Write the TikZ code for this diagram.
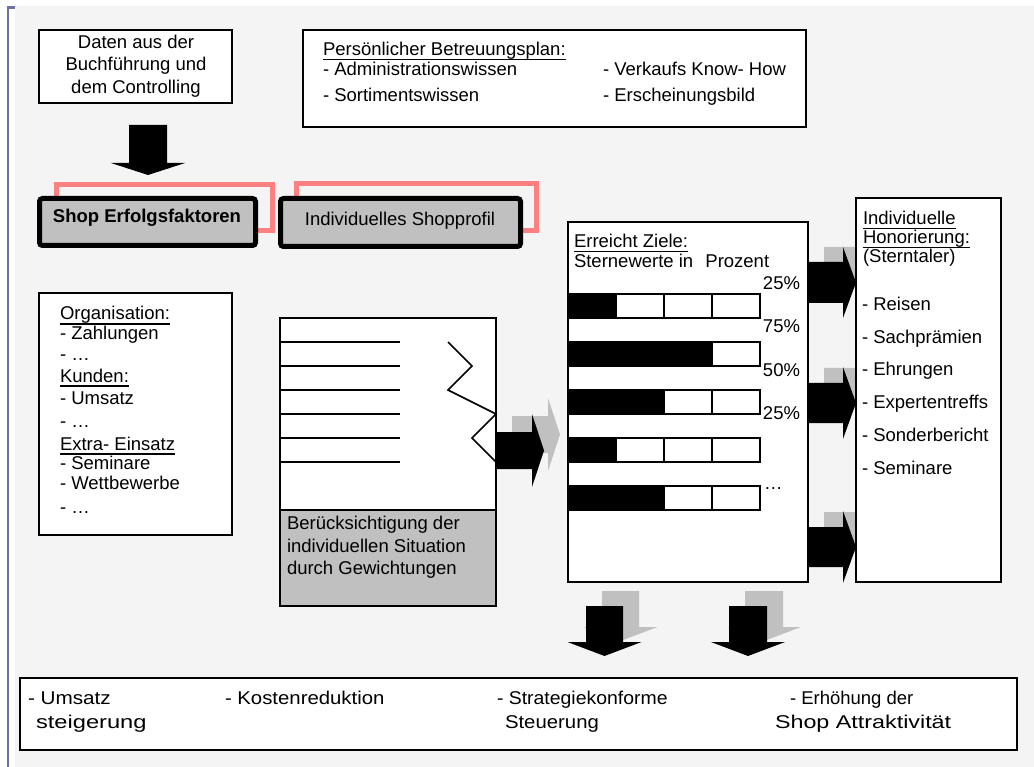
\documentclass[tikz,border=0pt]{standalone}
\usepackage{fontspec}
\usepackage{graphicx}
\setmainfont{Liberation Sans}
\definecolor{bgray}{HTML}{F4F4F4}
\definecolor{fgray}{HTML}{C0C0C0}
\definecolor{pinkc}{HTML}{FF8080}
\definecolor{purp}{HTML}{7070A8}
\newcommand\myul[1]{\setbox0\hbox{#1}\rlap{\rule[-4.5pt]{\wd0}{1.8pt}}\box0}
\newcommand\myRArrow[7]{\fill[#7] ({#1},{#4-#5}) -- ({#2},{#4-#5}) -- ({#2},{#4-#6}) -- ({#3},{#4}) -- ({#2},{#4+#6}) -- ({#2},{#4+#5}) -- ({#1},{#4+#5}) -- cycle;}
\newcommand\myDArrow[7]{\fill[#7] ({#1-#5},{#2}) -- ({#1+#5},{#2}) -- ({#1+#5},{#3}) -- ({#1+#6},{#3}) -- ({#1},{#4}) -- ({#1-#6},{#3}) -- ({#1-#5},{#3}) -- cycle;}
\begin{document}
\begin{tikzpicture}[x=1pt,y=-1pt,
  every node/.style={inner sep=0pt,outer sep=0pt,font=\fontsize{18.5}{22}\selectfont},
  tx/.style={anchor=base west},
  tc/.style={anchor=base},
  te/.style={anchor=base east},
  box/.style={draw=black,line width=1.6pt,fill=white,anchor=north west},
  shopbox/.style={draw=black,line width=5pt,fill=fgray,rounded corners=3pt,anchor=north west},
  pinkframe/.style={draw=pinkc,line width=5pt},
  cell/.style={draw=black,line width=1.5pt},
  thinline/.style={draw=black,line width=1.4pt}
]
\useasboundingbox (0,0) rectangle (1034,767);
% background
\fill[white] (0,0) rectangle (1034,767);
\fill[bgray] (15,6) rectangle (1034,767);
\draw[purp,line width=2.6pt] (8,767) -- (8,7.3) -- (15,7.3);

% top left box
\node[box,minimum width=193pt,minimum height=73pt] (daten) at (39,30) {};
\node[tc] (d1) at (136,49) {Daten aus der};
\node[tc] (d2) at (136,71) {Buchführung und};
\node[tc] (d3) at (136,94) {dem Controlling};
\myDArrow{148}{125}{163}{175}{19}{37}{black}

% Betreuungsplan
\node[box,minimum width=503pt,minimum height=97pt] (plan) at (303,30) {};
\node[tx] (p0) at (323,56) {\myul{Persönlicher Betreuungsplan:}};
\node[tx] (p1) at (323,76) {- Administrationswissen};
\node[tx] (p2) at (323,102) {- Sortimentswissen};
\node[tx] (p3) at (603,76) {- Verkaufs Know- How};
\node[tx] (p4) at (603,102) {- Erscheinungsbild};

% shop boxes
\draw[pinkframe] (56.5,184.5) rectangle (272.5,230.5);
\draw[pinkframe] (296.5,183.5) rectangle (536.5,230.5);
\node[shopbox,minimum width=216pt,minimum height=47pt] (shop1) at (39.5,198.5) {};
\node[tc,font=\fontsize{18.5}{22}\selectfont\bfseries] (s1) at (147,223) {Shop Erfolgsfaktoren};
\node[shopbox,minimum width=240pt,minimum height=48pt] (shop2) at (280.5,198.5) {};
\node[tc] (s2) at (400,226) {Individuelles Shopprofil};

% left list
\node[box,minimum width=193pt,minimum height=242pt] (list) at (39,293) {};
\node[tx] (l1) at (60,320) {\myul{Organisation:}};
\node[tx] (l2) at (60,340) {- Zahlungen};
\node[tx] (l3) at (60,361) {- …};
\node[tx] (l4) at (60,382) {\myul{Kunden:}};
\node[tx] (l5) at (60,404) {- Umsatz};
\node[tx] (l6) at (60,428) {- …};
\node[tx] (l7) at (60,450) {\myul{Extra- Einsatz}};
\node[tx] (l8) at (60,469) {- Seminare};
\node[tx] (l9) at (60,489) {- Wettbewerbe};
\node[tx] (l10) at (60,513) {- …};

% document
\node[box,minimum width=216pt,minimum height=288pt] (doc) at (280,318) {};
\fill[fgray] (280,510) rectangle (496,606);
\draw[line width=1.6pt] (280,510) -- (496,510);
\draw[line width=1.6pt] (280,318) rectangle (496,606);
\draw[line width=2.4pt] (352,318) -- (472,318);
\foreach \yy in {342,366,390,414,438,462}{\draw[thinline] (280,\yy) -- (400,\yy);}
\draw[line width=1.6pt] (448,342) -- (472,366) -- (448,390) -- (496,414) -- (472,438) -- (496,462);
\node[tx] (g1) at (287,529) {Berücksichtigung der};
\node[tx] (g2) at (287,552) {individuellen Situation};
\node[tx] (g3) at (287,574) {durch Gewichtungen};

% arrow doc -> bars
\myRArrow{512}{548}{560}{434.5}{18.5}{36.5}{fgray}
\myRArrow{496}{532}{544}{450.5}{18.5}{36.5}{black}

% bars box
\node[box,minimum width=240pt,minimum height=360pt] (bars) at (568,222) {};
\node[tx] (b1) at (574,248) {\myul{Erreicht Ziele:}};
\node[tx] (b2) at (574,268) {Sternewerte in\hspace{7pt} Prozent};
\foreach \yt/\n in {294/1,342/3,390/2,438/1,486/2}{
  \fill[black] (568,\yt) rectangle ({568+48*\n},{\yt+24});
  \draw[cell] (568,\yt) rectangle (760,{\yt+24});
  \foreach \xx in {616,664,712}{\draw[cell] (\xx,\yt) -- (\xx,{\yt+24});}
}
\node[te] (pc1) at (800,290) {25\%};
\node[te] (pc2) at (800,333) {75\%};
\node[te] (pc3) at (800,377) {50\%};
\node[te] (pc4) at (800,419) {25\%};
\node[tx] (pc5) at (764,489) {…};

% arrows to honor box
\myRArrow{824}{859}{872}{267.5}{20.5}{35.5}{fgray}
\myRArrow{808}{843}{856}{282.5}{20.5}{35.5}{black}
\myRArrow{824}{859}{872}{388}{20}{36}{fgray}
\myRArrow{808}{843}{856}{403}{20}{36}{black}
\myRArrow{824}{859}{872}{532}{20}{36}{fgray}
\myRArrow{808}{843}{856}{547}{20}{36}{black}

% honor box
\node[box,minimum width=145pt,minimum height=384pt] (honor) at (856,198) {};
\node[tx] (h1) at (863,225) {\myul{Individuelle}};
\node[tx] (h2) at (863,244) {\myul{Honorierung:}};
\node[tx] (h3) at (863,263) {(Sterntaler)};
\node[tx] (h4) at (862,311) {- Reisen};
\node[tx] (h5) at (862,344) {- Sachprämien};
\node[tx] (h6) at (862,376) {- Ehrungen};
\node[tx] (h7) at (862,409) {- Expertentreffs};
\node[tx] (h8) at (862,441) {- Sonderbericht};
\node[tx] (h9) at (862,474) {- Seminare};

% down arrows
\myDArrow{620.5}{591}{627}{641}{18.5}{37}{fgray}
\myDArrow{604.5}{606}{642}{656}{18.5}{37}{black}
\myDArrow{764}{591}{627}{641}{19}{37}{fgray}
\myDArrow{748}{606}{642}{656}{19}{37}{black}

% bottom box
\node[box,minimum width=997pt,minimum height=72pt] (goals) at (20,678) {};
\node[tx] (z1) at (28,704) {\scalebox{1.12}[1]{- Umsatz}};
\node[tx] (z2) at (36,728) {\scalebox{1.28}[1]{steigerung}};
\node[tx] (z3) at (225,704) {\scalebox{1.1}[1]{- Kostenreduktion}};
\node[tx] (z4) at (497,704) {\scalebox{1.05}[1]{- Strategiekonforme}};
\node[tx] (z5) at (505,728) {\scalebox{1.1}[1]{Steuerung}};
\node[tx] (z6) at (790,704) {- Erhöhung der};
\node[tx] (z7) at (775,728) {\scalebox{1.26}[1]{Shop Attraktivität}};
\end{tikzpicture}
\end{document}
